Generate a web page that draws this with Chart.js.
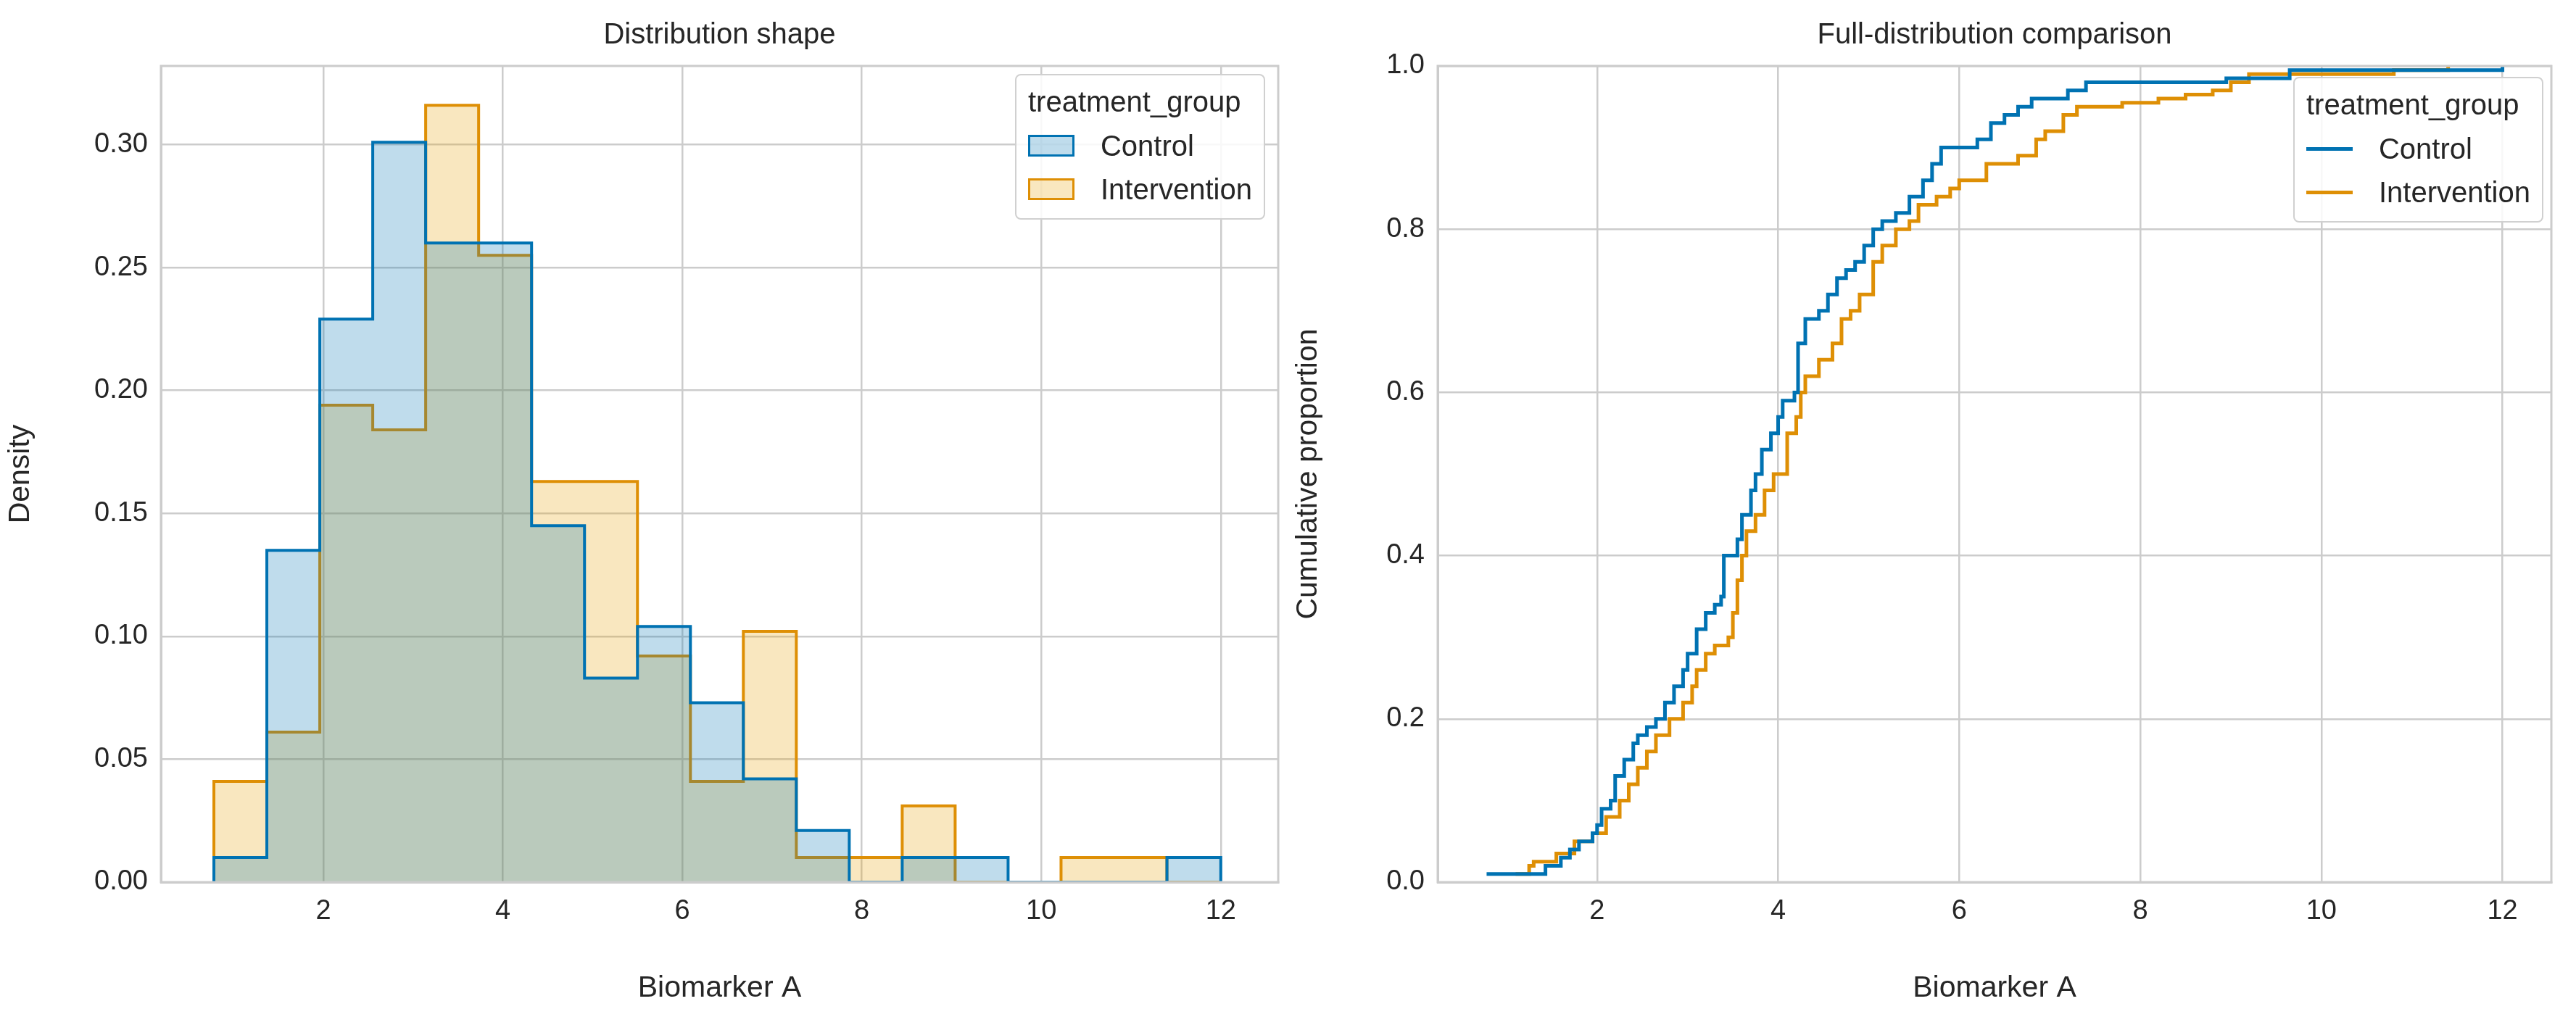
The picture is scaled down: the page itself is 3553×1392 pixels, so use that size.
<!DOCTYPE html>
<html>
<head>
<meta charset="utf-8">
<script src="https://cdn.jsdelivr.net/npm/chart.js@4.4.1/dist/chart.umd.min.js"></script>
<style>
  body { margin: 0; background: #fff; width: 3553px; height: 1392px; position: relative; font-family: "Liberation Sans", Arial, sans-serif; color: #262626; overflow: hidden; }
  .panel { position: absolute; top: 0; width: 1776px; height: 1392px; }
  .title { position: absolute; top: 24px; font-size: 40px; text-align: center; }
  .legend { position: absolute; background: rgba(255,255,255,0.85); border: 2px solid #d0d0d0; border-radius: 8px; padding: 14px 16px 10px 16px; font-size: 40px; }
  .legend .lt { margin-bottom: 8px; }
  .legend .row { display: flex; align-items: center; height: 60px; }
  .sw { width: 64px; height: 30px; margin-right: 36px; box-sizing: border-box; }
  .ln { width: 64px; height: 5px; margin-right: 36px; }
</style>
</head>
<body>
<div class="panel" style="left:0"><canvas id="histChart" width="1776" height="1392"></canvas></div>
<div class="panel" style="left:1776px"><canvas id="ecdfChart" width="1777" height="1392"></canvas></div>

<div class="title" style="left:222px;width:1541px">Distribution shape</div>
<div class="title" style="left:1983px;width:1536px">Full-distribution comparison</div>

<div class="legend" style="right:1808px;top:102px">
  <div class="lt">treatment_group</div>
  <div class="row"><div class="sw" style="background:rgba(0,114,178,0.25);border:3px solid #0072b2"></div>Control</div>
  <div class="row"><div class="sw" style="background:rgba(230,159,0,0.25);border:3px solid #de8f05"></div>Intervention</div>
</div>
<div class="legend" style="right:45px;top:106px">
  <div class="lt">treatment_group</div>
  <div class="row"><div class="ln" style="background:#0072b2"></div>Control</div>
  <div class="row"><div class="ln" style="background:#de8f05"></div>Intervention</div>
</div>

<script>
// Histogram bins (edges) and densities
const binEdges = [0.78, 1.37, 1.96, 2.55, 3.14, 3.73, 4.32, 4.91, 5.50, 6.09, 6.68, 7.27, 7.86, 8.45, 9.04, 9.63, 10.22, 10.81, 11.40, 12.00];
const controlDensity = [0.010, 0.135, 0.229, 0.301, 0.260, 0.260, 0.145, 0.083, 0.104, 0.073, 0.042, 0.021, 0.0, 0.010, 0.010, 0.0, 0.0, 0.0, 0.010];
const interventionDensity = [0.041, 0.061, 0.194, 0.184, 0.316, 0.255, 0.163, 0.163, 0.092, 0.041, 0.102, 0.010, 0.010, 0.031, 0.0, 0.0, 0.010, 0.010, 0.0];

// ECDF steps
const controlX = [0.78, 1.43, 1.6, 1.7, 1.8, 1.95, 2.0, 2.05, 2.15, 2.2, 2.3, 2.4, 2.45, 2.55, 2.65, 2.75, 2.85, 2.95, 3.0, 3.1, 3.2, 3.3, 3.37, 3.4, 3.55, 3.6, 3.7, 3.75, 3.82, 3.92, 4.0, 4.05, 4.18, 4.22, 4.3, 4.45, 4.55, 4.65, 4.75, 4.85, 4.95, 5.05, 5.15, 5.3, 5.45, 5.6, 5.7, 5.8, 6.2, 6.35, 6.5, 6.65, 6.8, 7.2, 7.4, 8.95, 9.65, 12.0];
const controlY = [0.01, 0.02, 0.03, 0.04, 0.05, 0.06, 0.07, 0.09, 0.10, 0.13, 0.15, 0.17, 0.18, 0.19, 0.20, 0.22, 0.24, 0.26, 0.28, 0.31, 0.33, 0.34, 0.35, 0.40, 0.42, 0.45, 0.48, 0.50, 0.53, 0.55, 0.57, 0.59, 0.60, 0.66, 0.69, 0.70, 0.72, 0.74, 0.75, 0.76, 0.78, 0.80, 0.81, 0.82, 0.84, 0.86, 0.88, 0.90, 0.91, 0.93, 0.94, 0.95, 0.96, 0.97, 0.98, 0.985, 0.995, 1.0];
const interventionX = [1.1, 1.25, 1.3, 1.55, 1.75, 1.95, 2.1, 2.25, 2.35, 2.45, 2.55, 2.65, 2.8, 2.95, 3.05, 3.1, 3.2, 3.3, 3.45, 3.5, 3.55, 3.6, 3.65, 3.75, 3.85, 3.95, 4.1, 4.2, 4.25, 4.3, 4.45, 4.6, 4.7, 4.8, 4.9, 5.05, 5.15, 5.3, 5.45, 5.55, 5.75, 5.9, 6.0, 6.3, 6.65, 6.85, 6.95, 7.15, 7.3, 7.8, 8.2, 8.5, 8.8, 9.0, 9.2, 10.8, 11.4];
const interventionY = [0.01, 0.02, 0.025, 0.035, 0.05, 0.06, 0.08, 0.10, 0.12, 0.14, 0.16, 0.18, 0.20, 0.22, 0.24, 0.26, 0.28, 0.29, 0.30, 0.33, 0.37, 0.40, 0.43, 0.45, 0.48, 0.50, 0.55, 0.57, 0.60, 0.62, 0.64, 0.66, 0.69, 0.70, 0.72, 0.76, 0.78, 0.80, 0.81, 0.83, 0.84, 0.85, 0.86, 0.88, 0.89, 0.91, 0.92, 0.94, 0.95, 0.955, 0.96, 0.965, 0.97, 0.98, 0.99, 0.995, 1.0];

const histTicks = [0, 0.05, 0.10, 0.15, 0.20, 0.25, 0.30];
const xTicks = [2, 4, 6, 8, 10, 12];

const BLUE = '#0072b2';
const ORANGE = '#de8f05';
const GRID = '#cccccc';
const TEXT = '#262626';
const FONT = '"Liberation Sans", Arial, sans-serif';

function histPoints(density) {
    const pts = [{ x: binEdges[0], y: 0 }];
    density.forEach((d, i) => pts.push({ x: binEdges[i], y: d }));
    pts.push({ x: binEdges[binEdges.length - 1], y: 0 });
    return pts;
}

function ecdfPoints(xs, ys) {
    return xs.map((x, i) => ({ x: x, y: ys[i] }));
}

// full box around the plot area, like the seaborn spines
const frame = {
    id: 'frame',
    afterDraw(chart) {
        const a = chart.chartArea, c = chart.ctx;
        c.save();
        c.strokeStyle = GRID; c.lineWidth = 3;
        c.strokeRect(a.left, a.top, a.right - a.left, a.bottom - a.top);
        c.restore();
    }
};

function axisOpts(min, max, ticks, title, fmt, fixedSize, isY) {
    return {
        type: 'linear', min: min, max: max,
        afterBuildTicks: s => { s.ticks = ticks.map(v => ({ value: v })); },
        afterFit: s => { if (isY) s.width = fixedSize; else s.height = fixedSize; },
        grid: { color: GRID, lineWidth: 2.5, drawTicks: false },
        border: { color: GRID, width: 3 },
        ticks: { color: TEXT, font: { family: FONT, size: 38 }, padding: 18, callback: fmt },
        title: { display: true, text: title, color: TEXT, font: { family: FONT, size: 41 }, padding: { top: 4, bottom: 4 } }
    };
}

const common = {
    responsive: false, devicePixelRatio: 1, animation: false,
    plugins: { legend: { display: false }, tooltip: { enabled: false } },
    elements: { point: { radius: 0 } }
};

new Chart(document.getElementById('histChart'), {
    type: 'line',
    data: {
        datasets: [
            { label: 'Control', data: histPoints(controlDensity), stepped: 'before', borderColor: BLUE, borderWidth: 4, backgroundColor: 'rgba(0,114,178,0.25)', fill: 'origin' },
            { label: 'Intervention', data: histPoints(interventionDensity), stepped: 'before', borderColor: ORANGE, borderWidth: 4, backgroundColor: 'rgba(230,159,0,0.25)', fill: 'origin' }
        ]
    },
    options: Object.assign({}, common, {
        layout: { padding: { top: 91, right: 13, left: 0, bottom: 0 } },
        scales: {
            x: axisOpts(0.19, 12.64, xTicks, 'Biomarker A', v => String(v), 175, false),
            y: axisOpts(0, 0.332, histTicks, 'Density', v => v.toFixed(2), 222, true)
        }
    }),
    plugins: [frame]
});

new Chart(document.getElementById('ecdfChart'), {
    type: 'line',
    data: {
        datasets: [
            { label: 'Control', data: ecdfPoints(controlX, controlY), stepped: 'before', borderColor: BLUE, borderWidth: 5, fill: false },
            { label: 'Intervention', data: ecdfPoints(interventionX, interventionY), stepped: 'before', borderColor: ORANGE, borderWidth: 5, fill: false }
        ]
    },
    options: Object.assign({}, common, {
        layout: { padding: { top: 91, right: 34, left: 0, bottom: 0 } },
        scales: {
            x: axisOpts(0.24, 12.54, xTicks, 'Biomarker A', v => String(v), 175, false),
            y: axisOpts(0, 1, [0, 0.2, 0.4, 0.6, 0.8, 1.0], 'Cumulative proportion', v => v.toFixed(1), 207, true)
        }
    }),
    plugins: [frame]
});
</script>
</body>
</html>
